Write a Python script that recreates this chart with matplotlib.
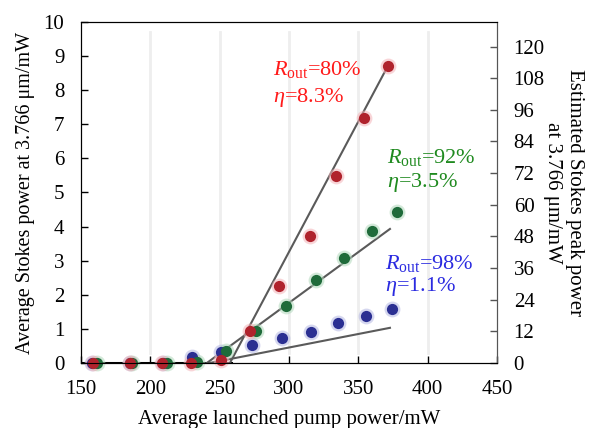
import matplotlib.pyplot as plt

plt.rcParams["font.family"] = ["Liberation Serif", "DejaVu Serif"]
plt.rcParams["mathtext.fontset"] = "custom"
plt.rcParams["mathtext.rm"] = "Liberation Serif"
plt.rcParams["mathtext.it"] = "Liberation Serif:italic"

# measured points (pump power in mW, Stokes power in mW)
pump_r80 = [158.7, 185.3, 208.4, 229.3, 251.0, 271.9, 292.8, 315.1, 333.9, 354.0, 371.3]
stokes_r80 = [0, 0, 0, 0, 0.09, 0.94, 2.26, 3.72, 5.48, 7.18, 8.71]
pump_r92 = [161.5, 186.5, 211.8, 233.4, 254.5, 276.2, 297.8, 319.4, 339.6, 359.8, 377.8]
stokes_r92 = [0, 0, 0, 0.02, 0.35, 0.94, 1.67, 2.43, 3.08, 3.87, 4.42]
pump_r98 = [158.0, 185.0, 209.0, 230.0, 251.0, 273.3, 294.9, 315.8, 335.3, 355.5, 374.3]
stokes_r98 = [0, 0, 0, 0.18, 0.32, 0.53, 0.73, 0.91, 1.17, 1.38, 1.58]

# linear fits (start, end)
fit_r80_x = [257.4, 371.3]
fit_r80_y = [0, 8.71]
fit_r92_x = [240.8, 372.8]
fit_r92_y = [0, 3.93]
fit_r98_x = [243.0, 372.8]
fit_r98_y = [0, 1.03]
below_x = [150, 258]
below_y = [0, 0]

grid_x = [200, 250, 300, 350, 400]
left_ticks = list(range(0, 11))
right_ticks = list(range(0, 121, 12))
right_scale = 12.93

fig = plt.figure(figsize=(5.93, 4.28), dpi=100)
ax = fig.add_axes([0.1366, 0.152, 0.7015, 0.7966])

for gx in grid_x:
    ax.axvline(gx, ymin=0.03, ymax=0.97, color="#eeeeee", lw=2, zorder=0)

ax.plot(below_x, below_y, color="black", lw=2.2, zorder=2)
for fx, fy in ((fit_r80_x, fit_r80_y), (fit_r92_x, fit_r92_y), (fit_r98_x, fit_r98_y)):
    ax.plot(fx, fy, color="#5a5a5a", lw=1.5, zorder=2)

series = [
    (pump_r98, stokes_r98, "#2b2f92", "#b3b6e3"),
    (pump_r92, stokes_r92, "#1f6b3a", "#b0d8bb"),
    (pump_r80, stokes_r80, "#b0232d", "#f4b3b8"),
]
for px, py, core, halo in series:
    ax.scatter(px, py, s=130, color=halo, alpha=0.55, lw=0, zorder=3, clip_on=False)
    ax.scatter(px, py, s=65, color=core, lw=0, zorder=4, clip_on=False)

ax.set_xlim(150, 450)
ax.set_ylim(0, 10)
ax.set_xticks([150, 200, 250, 300, 350, 400, 450])
ax.set_yticks(left_ticks)
ax.tick_params(direction="in", labelsize=15, length=5, width=1)
ax.tick_params(axis="x", pad=12)
ax.tick_params(axis="y", pad=12)
ax.spines["right"].set_color("#555555")
ax.set_xlabel("Average launched pump power/mW", fontsize=15, labelpad=8)
ax.set_ylabel("Average Stokes power at 3.766 \u03bcm/mW", fontsize=14.5, labelpad=6)

ax2 = ax.twinx()
ax2.set_ylim(0, 10 * right_scale)
ax2.set_yticks(right_ticks)
ax2.tick_params(direction="in", labelsize=15, length=5, width=1, color="#555555", pad=12)
ax2.spines["right"].set_color("#555555")
ax2.set_ylabel("Estimated Stokes peak power\nat 3.766 \u03bcm/mW", fontsize=15,
               rotation=270, labelpad=28, linespacing=1.2)

ax.text(288.4, 8.6, r"$R_{\rm out}$=80%", color="#ff1a1a", fontsize=16, va="center")
ax.text(288.4, 7.8, r"$\eta$=8.3%", color="#ff1a1a", fontsize=16, va="center")
ax.text(370.6, 6.04, r"$R_{\rm out}$=92%", color="#1f8a1f", fontsize=16, va="center")
ax.text(370.6, 5.28, r"$\eta$=3.5%", color="#1f8a1f", fontsize=16, va="center")
ax.text(369.2, 2.93, r"$R_{\rm out}$=98%", color="#2a2ae0", fontsize=16, va="center")
ax.text(369.2, 2.23, r"$\eta$=1.1%", color="#2a2ae0", fontsize=16, va="center")

fig.savefig("out.png", dpi=100)
